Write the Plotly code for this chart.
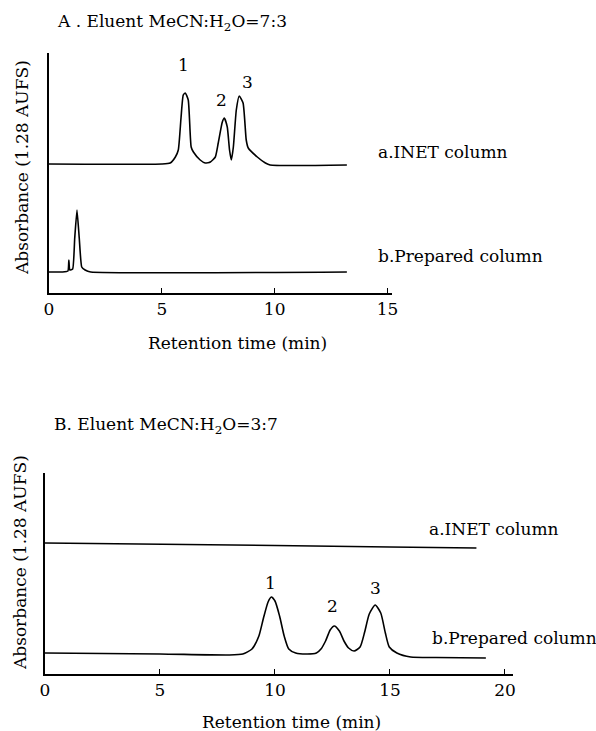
import plotly.graph_objects as go

W, H = 596, 731
FONT = "DejaVu Serif"

# ---------------- Panel A data (MeCN:H2O = 7:3) ----------------
a_inet_t = [0, 5.0, 5.37, 5.6, 5.73, 5.85, 5.95, 6.04, 6.17, 6.3, 6.4, 6.7, 6.92,
            7.15, 7.37, 7.5, 7.68, 7.77, 7.9, 8.0, 8.08, 8.17, 8.3, 8.43, 8.6,
            8.74, 8.83, 9.23, 9.59, 9.8, 13.2]
a_inet_v = [1.29, 1.29, 1.30, 1.36, 1.43, 1.75, 1.98, 2.00, 1.93, 1.46, 1.41, 1.33, 1.30,
            1.31, 1.36, 1.50, 1.71, 1.75, 1.66, 1.43, 1.33, 1.46, 1.83, 1.97, 1.90,
            1.53, 1.45, 1.36, 1.30, 1.28, 1.28]
a_prep_t = [0, 0.6, 0.84, 0.88, 0.92, 1.05, 1.14, 1.24, 1.34, 1.45, 1.6, 1.85, 13.2]
a_prep_v = [0.21, 0.21, 0.22, 0.33, 0.23, 0.24, 0.55, 0.83, 0.55, 0.26, 0.23, 0.21, 0.21]
a_peak_t = [5.95, 7.63, 8.79]
a_peak_v = [2.28, 1.93, 2.11]
a_peak_lbl = ["1", "2", "3"]
a_ticks = [0, 5, 10, 15]

# ---------------- Panel B data (MeCN:H2O = 3:7) ----------------
b_inet_t = [0, 5, 10, 15, 18.76]
b_inet_v = [1.31, 1.30, 1.285, 1.27, 1.26]
b_prep_t = [0, 5, 8.0, 8.6, 9.0, 9.3, 9.5, 9.7, 9.84, 10.0, 10.2, 10.4, 10.6, 10.9,
            11.4, 11.8, 12.0, 12.2, 12.4, 12.58, 12.8, 13.0, 13.2, 13.44, 13.7, 13.9,
            14.1, 14.36, 14.6, 14.8, 14.97, 15.3, 15.9, 17.0, 19.17]
b_prep_v = [0.21, 0.20, 0.19, 0.20, 0.25, 0.38, 0.56, 0.72, 0.77, 0.73, 0.58, 0.38, 0.25, 0.21,
            0.20, 0.21, 0.25, 0.33, 0.44, 0.48, 0.43, 0.33, 0.26, 0.23, 0.27, 0.42,
            0.60, 0.69, 0.61, 0.41, 0.27, 0.21, 0.17, 0.165, 0.16]
b_peak_t = [9.79, 12.48, 14.35]
b_peak_v = [0.91, 0.68, 0.86]
b_peak_lbl = ["1", "2", "3"]
b_ticks = [0, 5, 10, 15, 20]

col_labels = ["a.INET column", "b.Prepared column"]


def px(x):
    return x / W


def py(y):
    return 1 - y / H


fig = go.Figure()
line = dict(color="black", width=1.6)
fig.add_trace(go.Scatter(x=a_inet_t, y=a_inet_v, mode="lines", line=dict(**line, shape="spline", smoothing=0.5),
                         xaxis="x", yaxis="y", showlegend=False))
fig.add_trace(go.Scatter(x=a_prep_t, y=a_prep_v, mode="lines", line=dict(**line, shape="spline", smoothing=0.4),
                         xaxis="x", yaxis="y", showlegend=False))
fig.add_trace(go.Scatter(x=b_inet_t, y=b_inet_v, mode="lines", line=line,
                         xaxis="x2", yaxis="y2", showlegend=False))
fig.add_trace(go.Scatter(x=b_prep_t, y=b_prep_v, mode="lines", line=dict(**line, shape="spline", smoothing=0.6),
                         xaxis="x2", yaxis="y2", showlegend=False))

axis_common = dict(showline=True, linecolor="black", linewidth=1.5, showgrid=False,
                   zeroline=False, automargin=False)
xax = dict(**axis_common, ticks="inside", ticklen=5, tickwidth=1, tickcolor="black",
           tickfont=dict(family=FONT, size=17, color="black"))
yax = dict(**axis_common, ticks="", showticklabels=False)

fig.update_layout(
    width=W, height=H,
    margin=dict(l=0, r=0, t=0, b=0),
    paper_bgcolor="white", plot_bgcolor="white",
    xaxis=dict(**xax, domain=[px(49), px(392)], range=[0, 15.2], tickvals=a_ticks, anchor="y"),
    yaxis=dict(**yax, domain=[py(293), py(53)], range=[0, 2.40], anchor="x"),
    xaxis2=dict(**xax, domain=[px(45), px(513)], range=[0, 20.35], tickvals=b_ticks, anchor="y2"),
    yaxis2=dict(**yax, domain=[py(674), py(473)], range=[0, 2.01], anchor="x2"),
)

txt = dict(family=FONT, size=17, color="black")
ann = []


def note(x, y, text, xref="paper", yref="paper", xanchor="center", angle=0):
    ann.append(dict(x=x, y=y, xref=xref, yref=yref, text=text, showarrow=False, font=txt,
                    xanchor=xanchor, yanchor="middle", textangle=angle))


# peak numbers
for t, v, s in zip(a_peak_t, a_peak_v, a_peak_lbl):
    note(t, v, s, "x", "y")
for t, v, s in zip(b_peak_t, b_peak_v, b_peak_lbl):
    note(t, v, s, "x2", "y2")
# column labels
note(px(376), py(152), col_labels[0], xanchor="left")
note(px(376), py(256), col_labels[1], xanchor="left")
note(px(427), py(529), col_labels[0], xanchor="left")
note(px(430), py(638), col_labels[1], xanchor="left")
# panel titles
note(px(55), py(23), "A . Eluent MeCN:H<sub>2</sub>O=7:3", xanchor="left")
note(px(52), py(425), "B. Eluent MeCN:H<sub>2</sub>O=3:7", xanchor="left")
# axis titles
note(px(237), py(343), "Retention time (min)")
note(px(291), py(722), "Retention time (min)")
note(px(22), py(168), "Absorbance (1.28 AUFS)", angle=-90)
note(px(20), py(563), "Absorbance (1.28 AUFS)", angle=-90)
fig.update_layout(annotations=ann)

fig.write_html("out.html")
